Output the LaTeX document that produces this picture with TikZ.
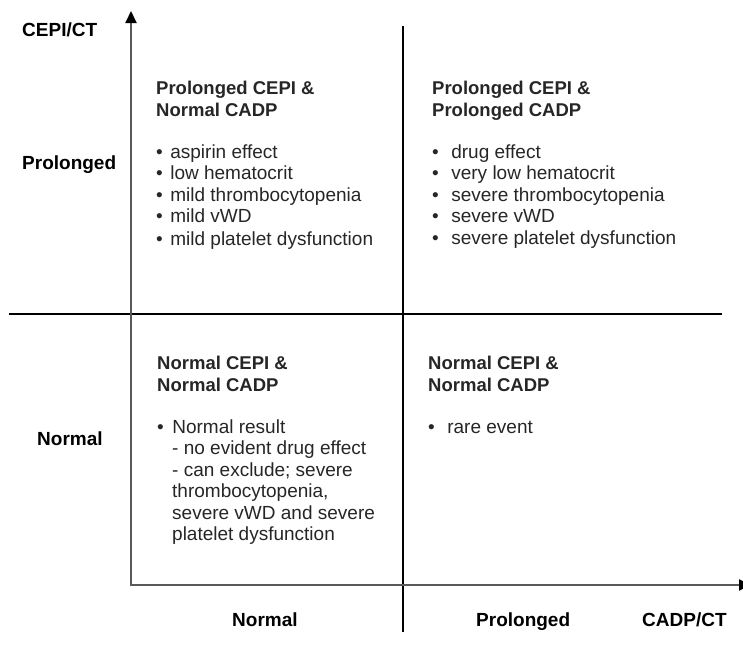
\documentclass[tikz,border=0pt]{standalone}
\usepackage{fontspec}
\setmainfont{Liberation Sans}
\usetikzlibrary{arrows.meta}

\begin{document}
\begin{tikzpicture}[x=1pt, y=-1pt, axis/.style={draw=black!65, line width=2pt, -{Triangle[length=12pt,width=11pt,color=black]}}, divider/.style={draw=black, line width=1.6pt}, axislabel/.style={font=\bfseries\fontsize{19}{21.5}\selectfont, anchor=base west, inner sep=0pt}, quadrant/.style={font=\fontsize{19}{21.5}\selectfont, align=left, anchor=north west, inner sep=0pt, text=black!85}]
  \useasboundingbox (0,0) rectangle (743,657);
  \coordinate (origin) at (131,585);
  \coordinate (ytip) at (131,11);
  \coordinate (xtip) at (751,585);
  \coordinate (vtop) at (403,26);
  \coordinate (vbottom) at (403,632);
  \coordinate (hleft) at (9,314);
  \coordinate (hright) at (722,314);
  \draw[divider] (vtop) -- (vbottom);
  \draw[divider] (hleft) -- (hright);
  \draw[axis] (origin) -- (ytip);
  \draw[axis] ([xshift=-1pt]origin) -- (xtip);
  \node[axislabel] (yname) at (22,36) {CEPI/CT};
  \node[axislabel] (yprolonged) at (22,169) {Prolonged};
  \node[axislabel] (ynormal) at (37,445) {Normal};
  \node[axislabel] (xnormal) at (232,626) {Normal};
  \node[axislabel] (xprolonged) at (476,626) {Prolonged};
  \node[axislabel] (xname) at (642,626) {CADP/CT};
  \node[quadrant] (topleft) at (156,81) {\textbf{\fontsize{18.5}{21.5}\selectfont Prolonged CEPI \&}\\\textbf{\fontsize{18.5}{21.5}\selectfont Normal CADP}\\[20.5pt]
    •\hspace{7.5pt}aspirin effect\\•\hspace{7.5pt}low hematocrit\\•\hspace{7.5pt}mild thrombocytopenia\\•\hspace{7.5pt}mild vWD\\[1.5pt]•\hspace{7.5pt}mild platelet dysfunction};
  \node[quadrant] (topright) at (432,81) {\textbf{\fontsize{18.5}{21.5}\selectfont Prolonged CEPI \&}\\\textbf{\fontsize{18.5}{21.5}\selectfont Prolonged CADP}\\[20.5pt]
    •\hspace{12.5pt}drug effect\\•\hspace{12.5pt}very low hematocrit\\•\hspace{12.5pt}severe thrombocytopenia\\•\hspace{12.5pt}severe vWD\\•\hspace{12.5pt}severe platelet dysfunction};
  \node[quadrant] (bottomleft) at (157,356) {\textbf{\fontsize{18.5}{21.5}\selectfont Normal CEPI \&}\\\textbf{\fontsize{18.5}{21.5}\selectfont Normal CADP}\\[20.5pt]
    •\hspace{8.5pt}Normal result\\\hspace*{15pt}- no evident drug effect\\\hspace*{15pt}- can exclude; severe\\\hspace*{15pt}thrombocytopenia,\\\hspace*{15pt}severe vWD and severe\\\hspace*{15pt}platelet dysfunction};
  \node[quadrant] (bottomright) at (428,356) {\textbf{\fontsize{18.5}{21.5}\selectfont Normal CEPI \&}\\\textbf{\fontsize{18.5}{21.5}\selectfont Normal CADP}\\[20.5pt]
    •\hspace{12.5pt}rare event};
\end{tikzpicture}
\end{document}
